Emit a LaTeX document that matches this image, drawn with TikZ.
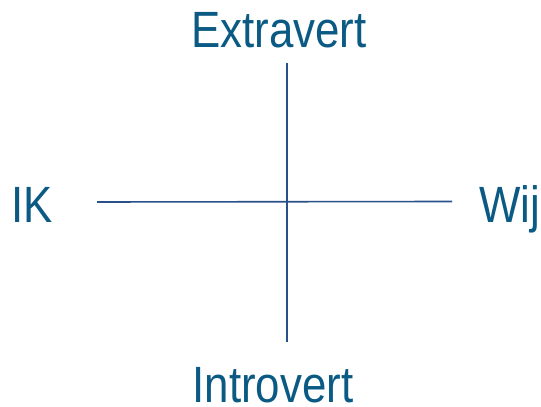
\documentclass[tikz,border=0pt]{standalone}
\usepackage{fontspec}
\setmainfont[FakeStretch=0.86]{Liberation Sans}
\definecolor{tekstblauw}{RGB}{11,90,132}
\definecolor{lijnblauw}{RGB}{42,80,138}
\tikzset{
  label/.style={inner sep=0pt, anchor=base, text=tekstblauw, font=\fontsize{51}{51}\selectfont},
  as/.style={draw=lijnblauw, line width=1.6pt}
}
\begin{document}
\begin{tikzpicture}[x=1pt, y=1pt]
            \useasboundingbox (0,0) rectangle (541,407);
            
            % Punten
            \coordinate (T) at (287,344);
            \coordinate (B) at (287,65);
            \coordinate (L) at (97,205);
            \coordinate (R) at (452,205.5);
            
            % Assen
            \draw[as] (B) -- (T);
            \draw[as] (L) -- (R);
            
            % Labels
            \node[label] (extra) at (279,359) {Extravert};
            \node[label] (intro) at (273,4) {Introvert};
            \node[label] (ik) at (32,184) {IK};
            \node[label] (wij) at (510,184) {Wij};
        \end{tikzpicture}
\end{document}
